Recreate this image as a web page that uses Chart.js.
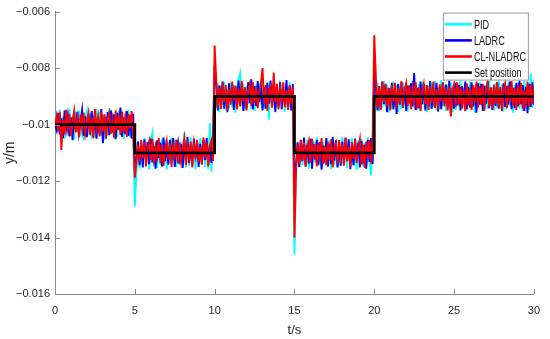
<!DOCTYPE html>
<html>
<head>
<meta charset="utf-8">
<script src="https://cdn.jsdelivr.net/npm/chart.js@4.4.1/dist/chart.umd.min.js"></script>
<style>
  html, body { margin: 0; padding: 0; background: #fff; }
</style>
</head>
<body>
<canvas id="posChart" width="550" height="339"></canvas>
<script>
// position response, sampled every 0.1 s from t = 0 to 30 s (values in m)
const sampleStep = 0.1;

const pidY = [
  -0.01,-0.00955,-0.0103,-0.00948,-0.01044,-0.00972,-0.0105,-0.0096,-0.01022,-0.00945,
  -0.01038,-0.0097,-0.01052,-0.00954,-0.01026,-0.0095,-0.01042,-0.00965,-0.01056,-0.00976,
  -0.00952,-0.01034,-0.0096,-0.0105,-0.00968,-0.01046,-0.00946,-0.01028,-0.00956,-0.0104,
  -0.00964,-0.01054,-0.00974,-0.01038,-0.00942,-0.0103,-0.00958,-0.01048,-0.00966,-0.01044,
  -0.0095,-0.01026,-0.00954,-0.01052,-0.00962,-0.01036,-0.00948,-0.01046,-0.0097,-0.0104,
  -0.0129,-0.0117,-0.0107,-0.01156,-0.01054,-0.0114,-0.01048,-0.01134,-0.0106,-0.0116,
  -0.01056,-0.0103,-0.01148,-0.01064,-0.01154,-0.01072,-0.01142,-0.0105,-0.0113,-0.01054,
  -0.01158,-0.01062,-0.01136,-0.01046,-0.01126,-0.01052,-0.0115,-0.01068,-0.01144,-0.0106,
  -0.01134,-0.01028,-0.01152,-0.0107,-0.01146,-0.01044,-0.01128,-0.01058,-0.01158,-0.01064,
  -0.0114,-0.01048,-0.01132,-0.01056,-0.0115,-0.01062,-0.01156,-0.00995,-0.01165,-0.0107,
  -0.0088,-0.0094,-0.00854,-0.00956,-0.00862,-0.0093,-0.00848,-0.00948,-0.00874,-0.00944,
  -0.0085,-0.00936,-0.0086,-0.00958,-0.0087,-0.0084,-0.00819,-0.00934,-0.00856,-0.0095,
  -0.00864,-0.00928,-0.00846,-0.00946,-0.00868,-0.00952,-0.00858,-0.00938,-0.00852,-0.0093,
  -0.00844,-0.00944,-0.00872,-0.0086,-0.00983,-0.0085,-0.0094,-0.00854,-0.00956,-0.00866,
  -0.00942,-0.00848,-0.0093,-0.00856,-0.00954,-0.00862,-0.00946,-0.0085,-0.00936,-0.0086,
  -0.0146,-0.0118,-0.0106,-0.0115,-0.01066,-0.01144,-0.01048,-0.01138,-0.01054,-0.01156,
  -0.0107,-0.01148,-0.01058,-0.01134,-0.01046,-0.01146,-0.01074,-0.01152,-0.01062,-0.0114,
  -0.0105,-0.0113,-0.01056,-0.01158,-0.01064,-0.01142,-0.01052,-0.0115,-0.01068,-0.01136,
  -0.01044,-0.01144,-0.01072,-0.01154,-0.0106,-0.01138,-0.01048,-0.01146,-0.0107,-0.0116,
  -0.01056,-0.01134,-0.0105,-0.01148,-0.01064,-0.01142,-0.01046,-0.0113,-0.0118,-0.01054,
  -0.0088,-0.0093,
  -0.00852,-0.00952,-0.00864,-0.0094,-0.00846,-0.00934,-0.00856,-0.00958,
  -0.0087,-0.00946,-0.00848,-0.00938,-0.0086,-0.00956,-0.00866,-0.00944,-0.0085,-0.0093,
  -0.00854,-0.00954,-0.00862,-0.00942,-0.00844,-0.00936,-0.00872,-0.0095,-0.00856,-0.00948,
  -0.00848,-0.00932,-0.0086,-0.00956,-0.00864,-0.00944,-0.00852,-0.00938,-0.00846,-0.0095,
  -0.0087,-0.00946,-0.00842,-0.00934,-0.00858,-0.00952,-0.00862,-0.0094,-0.0085,-0.00956,
  -0.00866,-0.00948,-0.00854,-0.00936,-0.00844,-0.00942,-0.00872,-0.00954,-0.0086,-0.00932,
  -0.00848,-0.00946,-0.00864,-0.00958,-0.00856,-0.00938,-0.0085,-0.0093,-0.00858,-0.00952,
  -0.00862,-0.00944,-0.00846,-0.00936,-0.0087,-0.0095,-0.00854,-0.0094,-0.00844,-0.00934,
  -0.00858,-0.00954,-0.00864,-0.00946,-0.00848,-0.00932,-0.00852,-0.00958,-0.0086,-0.00938,
  -0.0085,-0.00944,-0.00866,-0.00952,-0.00844,-0.00936,-0.00856,-0.00948,-0.0082,-0.0094,
  -0.0084
];

const ladrcY = [
  -0.01,-0.0102,-0.0096,-0.01035,-0.00978,-0.01048,-0.0095,-0.01015,-0.0097,-0.01042,
  -0.00975,-0.01055,-0.00962,-0.0102,-0.00955,-0.0103,-0.00988,-0.00948,-0.0104,-0.00972,
  -0.01045,-0.00965,-0.01018,-0.00952,-0.01025,-0.0096,-0.0105,-0.0098,-0.01036,-0.00945,
  -0.01066,-0.0097,-0.01022,-0.00956,-0.01038,-0.0095,-0.01028,-0.00964,-0.01052,-0.00958,
  -0.01018,-0.0094,-0.01044,-0.00974,-0.01034,-0.00952,-0.0104,-0.00968,-0.0105,-0.00962,
  -0.0116,-0.0112,-0.0106,-0.01144,-0.0107,-0.01152,-0.01052,-0.01126,-0.01062,-0.0114,
  -0.0105,-0.01134,-0.01078,-0.01156,-0.01056,-0.01118,-0.01064,-0.01148,-0.01046,-0.0113,
  -0.01074,-0.01142,-0.01054,-0.01122,-0.01048,-0.0115,-0.01082,-0.0106,-0.01138,-0.0107,
  -0.01154,-0.01056,-0.01128,-0.01044,-0.01136,-0.01076,-0.01146,-0.0105,-0.0112,-0.01062,
  -0.0115,-0.01068,-0.0114,-0.01054,-0.01126,-0.01048,-0.01144,-0.01072,-0.01136,-0.01052,
  -0.0079,-0.0086,-0.0095,-0.00862,-0.0093,-0.00848,-0.00944,-0.00874,-0.00956,-0.00854,
  -0.0092,-0.0086,-0.00948,-0.00866,-0.00936,-0.00844,-0.00928,-0.00856,-0.00952,-0.0087,
  -0.0094,-0.0085,-0.00924,-0.0084,-0.00946,-0.00864,-0.00934,-0.00846,-0.0092,-0.00858,
  -0.0095,-0.00868,-0.00944,-0.00852,-0.00926,-0.00844,-0.00938,-0.0086,-0.00954,-0.00872,
  -0.00936,-0.0085,-0.00946,-0.00876,-0.0093,-0.00842,-0.00942,-0.00864,-0.0095,-0.00856,
  -0.0125,-0.0114,-0.01064,-0.0115,-0.01056,-0.0113,-0.01046,-0.01146,-0.01072,-0.01138,
  -0.0105,-0.01156,-0.01068,-0.01124,-0.01054,-0.01142,-0.01062,-0.0116,-0.01074,-0.01134,
  -0.01048,-0.01148,-0.0107,-0.0114,-0.01044,-0.01128,-0.01056,-0.01152,-0.0108,-0.01146,
  -0.0106,-0.01136,-0.01046,-0.0113,-0.01052,-0.01158,-0.01076,-0.01144,-0.0105,-0.01126,
  -0.01064,-0.01152,-0.01058,-0.01138,-0.01072,-0.01156,-0.01054,-0.01132,-0.01048,-0.0114,
  -0.008,-0.0087,
  -0.0095,-0.00864,-0.00944,-0.00848,-0.00928,-0.0086,-0.00956,-0.0087,
  -0.00936,-0.00852,-0.00946,-0.00874,-0.00962,-0.00856,-0.0093,-0.0085,-0.0094,-0.00866,
  -0.00952,-0.00862,-0.00924,-0.00854,-0.00936,-0.00818,-0.00948,-0.0087,-0.00942,-0.00848,
  -0.00928,-0.00856,-0.0095,-0.00864,-0.00934,-0.00846,-0.00944,-0.00872,-0.0094,-0.00852,
  -0.00954,-0.00868,-0.00946,-0.0085,-0.00926,-0.00858,-0.00938,-0.00844,-0.0097,-0.0087,
  -0.00944,-0.00852,-0.00932,-0.0086,-0.0095,-0.00864,-0.00924,-0.00848,-0.00946,-0.00866,
  -0.0094,-0.0085,-0.00936,-0.00872,-0.00958,-0.00854,-0.0093,-0.00856,-0.00952,-0.00862,
  -0.00926,-0.00846,-0.00942,-0.00868,-0.00948,-0.0086,-0.00934,-0.0085,-0.00944,-0.00874,
  -0.0095,-0.00854,-0.00938,-0.00864,-0.0093,-0.00848,-0.00946,-0.0087,-0.00942,-0.00852,
  -0.00936,-0.00844,-0.00928,-0.0086,-0.00952,-0.00866,-0.0096,-0.00856,-0.00938,-0.0085,
  -0.0093
];

const clNladrcY = [
  -0.01,-0.0097,-0.01022,-0.00955,-0.0109,-0.00982,-0.01035,-0.00948,-0.0101,-0.00962,
  -0.0104,-0.00988,-0.00952,-0.01028,-0.0098,-0.01045,-0.00965,-0.01015,-0.00958,-0.0103,
  -0.00992,-0.0096,-0.01038,-0.00975,-0.01048,-0.00945,-0.01012,-0.00972,-0.01042,-0.00956,
  -0.01025,-0.00964,-0.0105,-0.00982,-0.0096,-0.01032,-0.00985,-0.01046,-0.0095,-0.0102,
  -0.00968,-0.01038,-0.00954,-0.01026,-0.00978,-0.01044,-0.00962,-0.01014,-0.00952,-0.01034,
  -0.01188,-0.01135,-0.01072,-0.0113,-0.01055,-0.0112,-0.01062,-0.01148,-0.01085,-0.0106,
  -0.01126,-0.0105,-0.0114,-0.0108,-0.01112,-0.01048,-0.01136,-0.0107,-0.01146,-0.0109,
  -0.01058,-0.01124,-0.01066,-0.0115,-0.01076,-0.01108,-0.01054,-0.01138,-0.01064,-0.01128,
  -0.01086,-0.0105,-0.01144,-0.01074,-0.01118,-0.0106,-0.01152,-0.01068,-0.0111,-0.01054,
  -0.01132,-0.0108,-0.01142,-0.01046,-0.01116,-0.01064,-0.01148,-0.01074,-0.01056,-0.0113,
  -0.0072,-0.0084,-0.0094,-0.0087,-0.00945,-0.00852,-0.00922,-0.0086,-0.0095,-0.00875,
  -0.0093,-0.00848,-0.00914,-0.00862,-0.00946,-0.00872,-0.00936,-0.00845,-0.00918,-0.00868,
  -0.0095,-0.00878,-0.00856,-0.00934,-0.0085,-0.00924,-0.0087,-0.00942,-0.00888,-0.00854,
  -0.008,-0.00928,-0.0086,-0.00952,-0.00882,-0.00864,-0.0094,-0.00816,-0.0092,-0.00856,
  -0.00946,-0.00872,-0.00914,-0.0085,-0.00938,-0.00878,-0.00948,-0.0086,-0.00926,-0.00866,
  -0.014,-0.0116,-0.0107,-0.01142,-0.01054,-0.01128,-0.01062,-0.0115,-0.0108,-0.01058,
  -0.01134,-0.0105,-0.0112,-0.01072,-0.01148,-0.01064,-0.01112,-0.01048,-0.0114,-0.01076,
  -0.01144,-0.0106,-0.01126,-0.01052,-0.01152,-0.01082,-0.01066,-0.01138,-0.01055,-0.01116,
  -0.0107,-0.01146,-0.01048,-0.0113,-0.01078,-0.0115,-0.01062,-0.01122,-0.01054,-0.01136,
  -0.01086,-0.01052,-0.01142,-0.01072,-0.01154,-0.0106,-0.01118,-0.01056,-0.01138,-0.0105,
  -0.00684,-0.0083,
  -0.0094,-0.00865,-0.00948,-0.00848,-0.00922,-0.00856,-0.00936,-0.00872,
  -0.0095,-0.0086,-0.00918,-0.00852,-0.00944,-0.0087,-0.00928,-0.00846,-0.00938,-0.00878,
  -0.00854,-0.00934,-0.00862,-0.00946,-0.00874,-0.0092,-0.0085,-0.00942,-0.00868,-0.00952,
  -0.00882,-0.00856,-0.0093,-0.0086,-0.00948,-0.00864,-0.00924,-0.00848,-0.0094,-0.00874,
  -0.00946,-0.00858,-0.00916,-0.00852,-0.00936,-0.0087,-0.0095,-0.00862,-0.0097,-0.00876,
  -0.00856,-0.00938,-0.0085,-0.00928,-0.00866,-0.00944,-0.00878,-0.00952,-0.00854,-0.00932,
  -0.00872,-0.00948,-0.0086,-0.0092,-0.00848,-0.0094,-0.00864,-0.0093,-0.00856,-0.0095,
  -0.0088,-0.00852,-0.00936,-0.0087,-0.00946,-0.00858,-0.00926,-0.0085,-0.00938,-0.00866,
  -0.00952,-0.00874,-0.00854,-0.00942,-0.00862,-0.00922,-0.00846,-0.00934,-0.0087,-0.00948,
  -0.0086,-0.0093,-0.00852,-0.00944,-0.00876,-0.0094,-0.00848,-0.00936,-0.00858,-0.00928,
  -0.00864
];

// reference (set position) steps
const setTimes = [0, 5, 10, 15, 20, 30];
const setValues = [-0.01, -0.011, -0.009, -0.011, -0.009, -0.009];

const seriesNames = ['PID', 'LADRC', 'CL-NLADRC', 'Set position'];
const seriesColors = ['#00ffff', '#0000ff', '#ff0000', '#000000'];

const xTickValues = [0, 5, 10, 15, 20, 25, 30];
const yTickValues = [-0.016, -0.014, -0.012, -0.01, -0.008, -0.006];
const yTickLabels = ['\u22120.016', '\u22120.014', '\u22120.012', '\u22120.01', '\u22120.008', '\u22120.006'];

const axisColor = '#8a8a8a';
const textColor = '#262626';
const fontFamily = "'Liberation Sans', Arial, Helvetica, sans-serif";

function toPoints(values) {
    return values.map((v, i) => ({ x: +(i * sampleStep).toFixed(1), y: v }));
}

// MATLAB style ticks pointing into the plot
const inwardTicks = {
    id: 'inwardTicks',
    afterDraw(chart) {
        const { ctx, chartArea, scales } = chart;
        ctx.save();
        ctx.strokeStyle = axisColor;
        ctx.lineWidth = 1;
        ctx.beginPath();
        scales.x.ticks.forEach(t => {
            const px = Math.round(scales.x.getPixelForValue(t.value)) + 0.5;
            ctx.moveTo(px, chartArea.bottom);
            ctx.lineTo(px, chartArea.bottom - 5);
        });
        scales.y.ticks.forEach(t => {
            const py = Math.round(scales.y.getPixelForValue(t.value)) + 0.5;
            ctx.moveTo(chartArea.left, py);
            ctx.lineTo(chartArea.left + 5, py);
        });
        ctx.stroke();
        ctx.restore();
    }
};

// boxed legend in the upper right corner of the axes
const boxLegend = {
    id: 'boxLegend',
    afterDraw(chart) {
        const { ctx, chartArea } = chart;
        const w = 85, h = 67;
        const left = chartArea.right - 6 - w;
        const top = chartArea.top + 1;
        ctx.save();
        ctx.fillStyle = '#fff';
        ctx.fillRect(left, top, w, h);
        ctx.strokeStyle = '#9a9a9a';
        ctx.lineWidth = 1;
        ctx.strokeRect(left + 0.5, top + 0.5, w, h);
        chart.data.datasets.forEach((ds, i) => {
            const y = top + 11.7 + i * 16.1;
            ctx.strokeStyle = ds.borderColor;
            ctx.lineWidth = 2.6;
            ctx.beginPath();
            ctx.moveTo(left + 2, y);
            ctx.lineTo(left + 29, y);
            ctx.stroke();
            ctx.save();
            ctx.translate(left + 31, y);
            ctx.scale(0.76, 1);
            ctx.fillStyle = '#111';
            ctx.font = '12px ' + fontFamily;
            ctx.textBaseline = 'middle';
            ctx.fillText(ds.label, 0, 1);
            ctx.restore();
        });
        ctx.restore();
    }
};

const seriesValues = [pidY, ladrcY, clNladrcY];

const datasets = seriesValues.map((vals, i) => ({
    label: seriesNames[i],
    data: toPoints(vals),
    borderColor: seriesColors[i],
    backgroundColor: seriesColors[i],
    borderWidth: 1.9,
    pointRadius: 0,
    tension: 0,
    order: 4 - i
}));

datasets.push({
    label: seriesNames[3],
    data: setTimes.map((t, i) => ({ x: t, y: setValues[i] })),
    borderColor: seriesColors[3],
    backgroundColor: seriesColors[3],
    borderWidth: 2.8,
    pointRadius: 0,
    stepped: true,
    order: 1
});

new Chart(document.getElementById('posChart').getContext('2d'), {
    type: 'line',
    data: { datasets: datasets },
    options: {
        responsive: false,
        animation: false,
        layout: { padding: { top: 9, right: 9, left: 0, bottom: 0 } },
        plugins: {
            legend: { display: false },
            tooltip: { enabled: false }
        },
        scales: {
            x: {
                type: 'linear',
                min: 0,
                max: 30,
                afterBuildTicks: scale => {
                    scale.ticks = xTickValues.map(v => ({ value: v }));
                },
                afterFit: scale => { scale.height = 45; },
                grid: { display: false, drawTicks: false },
                border: { display: true, color: axisColor, width: 1 },
                ticks: {
                    color: textColor,
                    padding: 10,
                    maxRotation: 0,
                    font: { family: fontFamily, size: 11 },
                    callback: value => String(value)
                },
                title: {
                    display: true,
                    text: 't/s',
                    color: textColor,
                    font: { family: fontFamily, size: 13 },
                    padding: { top: 0, bottom: 1 }
                }
            },
            y: {
                min: -0.016,
                max: -0.006,
                afterBuildTicks: scale => {
                    scale.ticks = yTickValues.map(v => ({ value: v }));
                },
                afterFit: scale => { scale.width = 55; },
                grid: { display: false, drawTicks: false },
                border: { display: true, color: axisColor, width: 1 },
                ticks: {
                    color: textColor,
                    padding: 5,
                    font: { family: fontFamily, size: 11 },
                    callback: (value, index) => yTickLabels[index]
                },
                title: {
                    display: true,
                    text: 'y/m',
                    color: textColor,
                    font: { family: fontFamily, size: 14 },
                    padding: { top: 2, bottom: 0 }
                }
            }
        }
    },
    plugins: [inwardTicks, boxLegend]
});
</script>
</body>
</html>
